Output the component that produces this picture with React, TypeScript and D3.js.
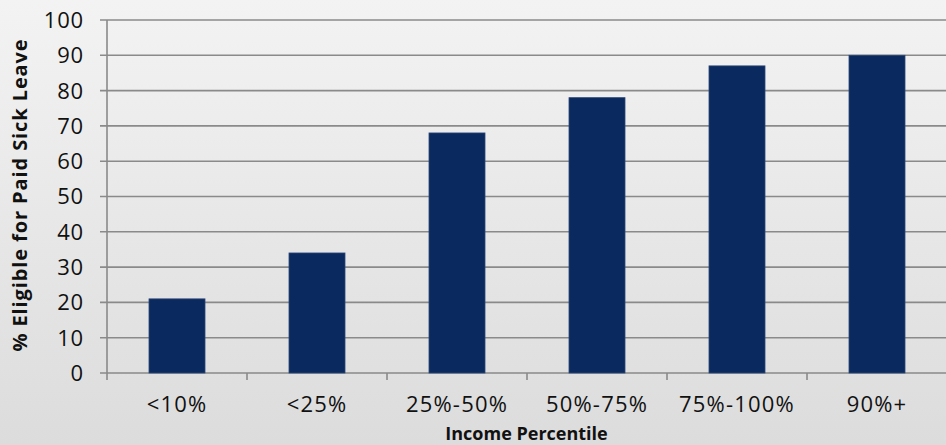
import React from "react";
import * as d3 from "d3";

const categories = ["<10%", "<25%", "25%-50%", "50%-75%", "75%-100%", "90%+"];
const values = [21, 34, 68, 78, 87, 90];
const yTicks = [0, 10, 20, 30, 40, 50, 60, 70, 80, 90, 100];

const W = 946;
const H = 445;
const M = { left: 107, right: -1, top: 20, bottom: 72 };

export default function App() {
  const x = d3.scaleBand<string>().domain(categories).range([M.left, W - M.right]).paddingInner(0.6).paddingOuter(0.3);
  const xOuter = d3.scaleBand<string>().domain(categories).range([M.left, W - M.right]);
  const y = d3.scaleLinear().domain([0, 100]).range([H - M.bottom, M.top]);
  const font = "'Century Gothic', 'Open Sans', 'DejaVu Sans', sans-serif";
  const y0 = y(0);
  return (
    <div style={{ position: "absolute", left: 0, top: 0 }}>
      <svg width={W} height={H} style={{ display: "block" }}>
        <defs>
          <linearGradient id="bg" x1="0" y1="0" x2="0" y2="1">
            <stop offset="0" stopColor="#f3f3f3" />
            <stop offset="1" stopColor="#dcdcdc" />
          </linearGradient>
        </defs>
        <rect x={0} y={0} width={W} height={H} fill="url(#bg)" />
        {yTicks.map((t) => (
          <g key={t}>
            <line x1={M.left - 7} x2={W} y1={y(t)} y2={y(t)} stroke="#8a8a8a" strokeWidth={1.6} />
            <text x={M.left - 23} y={y(t)} dy="0.36em" textAnchor="end" fontFamily={font} fontSize={22} letterSpacing={0.8} fill="#111">
              {t}
            </text>
          </g>
        ))}
        <line x1={M.left} x2={M.left} y1={M.top} y2={y0 + 7} stroke="#8a8a8a" strokeWidth={1.6} />
        {categories.map((c) => (
          <line key={"t" + c} x1={xOuter(c)! + xOuter.bandwidth()} x2={xOuter(c)! + xOuter.bandwidth()} y1={y0} y2={y0 + 7} stroke="#8a8a8a" strokeWidth={1.6} />
        ))}
        {categories.map((c, i) => (
          <rect key={c} x={x(c)} y={y(values[i])} width={x.bandwidth()} height={y0 - y(values[i])} fill="#0a2a5f" stroke="#2c4676" strokeWidth={0.8} />
        ))}
        {categories.map((c) => (
          <text key={"l" + c} x={xOuter(c)! + xOuter.bandwidth() / 2} y={412} textAnchor="middle" fontFamily={font} fontSize={22} letterSpacing={1.2} fill="#111">
            {c}
          </text>
        ))}
        <text x={(M.left + W) / 2} y={440} textAnchor="middle" fontFamily={font} fontSize={18} fontWeight="bold" fill="#111">
          Income Percentile
        </text>
        <text transform={`translate(27, 195) rotate(-90)`} textAnchor="middle" fontFamily={font} fontSize={20} letterSpacing={0.9} fontWeight="bold" fill="#111">
          % Eligible for Paid Sick Leave
        </text>
      </svg>
    </div>
  );
}
